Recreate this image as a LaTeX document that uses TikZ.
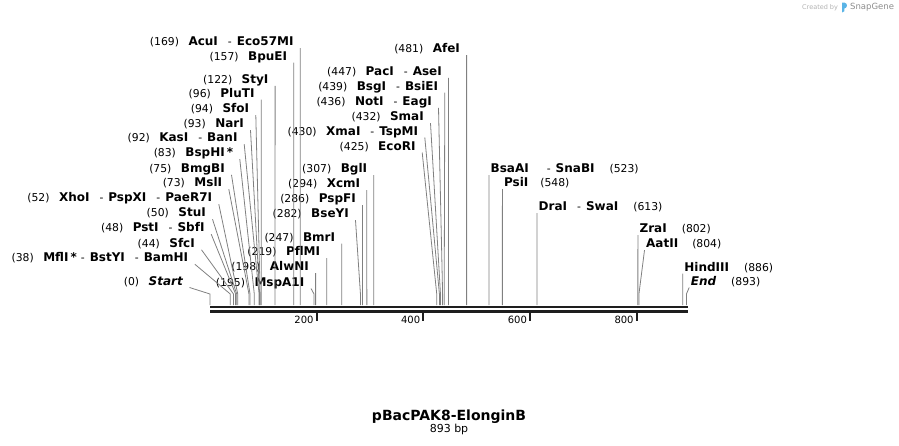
\documentclass[tikz,border=0pt]{standalone}
\usepackage{fontspec}
\setmainfont{DejaVu Sans}
\newcommand\enz[1]{{\fontsize{12}{14}\selectfont\bfseries #1}}
\newcommand\enzsep{\hspace{10pt}-\hspace{5pt}}
\newcommand\gapn{\hspace{9.5pt}}
\newcommand\gapr{\hspace{15pt}}
\definecolor{leadgray}{HTML}{808080}
\definecolor{axisblack}{HTML}{1E1E1E}
\definecolor{snapblue}{HTML}{5AB4E6}
\begin{document}
\begin{tikzpicture}[x=1pt,y=-1pt,
  lbl/.style={inner sep=0pt,font=\fontsize{10.8}{13}\selectfont},
  lead/.style={draw=leadgray,line width=0.8pt},
  axisline/.style={draw=axisblack,line width=2.8pt},
  tick/.style={draw=axisblack,line width=2pt}]
\useasboundingbox (0,0) rectangle (899,445);
% cut sites on the backbone
\foreach \bp in {0,38,44,48,50,52,73,75,83,92,93,94,96,122,157,169,195,198,219,247,282,286,294,307,425,430,432,436,439,447,481,523,548,613,802,804,886,893}
  \coordinate (s\bp) at ({210+0.5335*\bp},305);
% backbone
\coordinate (a0) at (210,307);
\coordinate (a1) at (688,307);
\draw[axisline] (a0) -- (a1);
\draw[axisline] ([yshift=-4.4pt]a0) -- ([yshift=-4.4pt]a1);
\foreach \t in {200,400,600,800} {
  \coordinate (k\t) at ({210+0.5335*\t},310);
  \draw[tick] (k\t) -- ([yshift=-10.5pt]k\t);
  \node[lbl,font=\fontsize{10}{12}\selectfont,anchor=base east] (t\t) at ({207+0.5335*\t},323) {\t};
}
% labels left of their lines
\node[lbl,anchor=base east] (n169) at (293.7,45.7) {(169)\gapn\enz{AcuI}\enzsep\enz{Eco57MI}};
\node[lbl,anchor=base east] (n157) at (287.3,60) {(157)\gapn\enz{BpuEI}};
\node[lbl,anchor=base east] (n122) at (268.6,83.3) {(122)\gapn\enz{StyI}};
\node[lbl,anchor=base east] (n96) at (254.7,97) {(96)\gapn\enz{PluTI}};
\node[lbl,anchor=base east] (n94) at (249.3,112.7) {(94)\gapn\enz{SfoI}};
\node[lbl,anchor=base east] (n93) at (244,127.7) {(93)\gapn\enz{NarI}};
\node[lbl,anchor=base east] (n92) at (237.7,141.7) {(92)\gapn\enz{KasI}\enzsep\enz{BanI}};
\node[lbl,anchor=base east] (n83) at (233.3,156.7) {(83)\gapn\enz{BspHI\,*}};
\node[lbl,anchor=base east] (n75) at (225,172.3) {(75)\gapn\enz{BmgBI}};
\node[lbl,anchor=base east] (n73) at (222.3,186.7) {(73)\gapn\enz{MslI}};
\node[lbl,anchor=base east] (n52) at (212.3,201.7) {(52)\gapn\enz{XhoI}\enzsep\enz{PspXI}\enzsep\enz{PaeR7I}};
\node[lbl,anchor=base east] (n50) at (206,216.7) {(50)\gapn\enz{StuI}};
\node[lbl,anchor=base east] (n48) at (204.7,231.7) {(48)\gapn\enz{PstI}\enzsep\enz{SbfI}};
\node[lbl,anchor=base east] (n44) at (195,247.3) {(44)\gapn\enz{SfcI}};
\node[lbl,anchor=base east] (n38) at (188.3,261.7) {(38)\gapn\enz{MflI\,*}\hspace{4pt}-\hspace{5pt}\enz{BstYI}\enzsep\enz{BamHI}};
\node[lbl,anchor=base east] (n0) at (183,285) {(0)\gapn\enz{\itshape Start}};
\node[lbl,anchor=base east] (n195) at (304.5,286) {(195)\gapn\enz{MspA1I}};
\node[lbl,anchor=base east] (n198) at (309.1,270.7) {(198)\gapn\enz{AlwNI}};
\node[lbl,anchor=base east] (n219) at (320.3,255.7) {(219)\gapn\enz{PflMI}};
\node[lbl,anchor=base east] (n247) at (335.3,241) {(247)\gapn\enz{BmrI}};
\node[lbl,anchor=base east] (n282) at (349,217.7) {(282)\gapn\enz{BseYI}};
\node[lbl,anchor=base east] (n286) at (356,202.7) {(286)\gapn\enz{PspFI}};
\node[lbl,anchor=base east] (n294) at (360.3,187.7) {(294)\gapn\enz{XcmI}};
\node[lbl,anchor=base east] (n307) at (367.3,172.7) {(307)\gapn\enz{BglI}};
\node[lbl,anchor=base east] (n425) at (415.7,150) {(425)\gapn\enz{EcoRI}};
\node[lbl,anchor=base east] (n430) at (418.3,135) {(430)\gapn\enz{XmaI}\enzsep\enz{TspMI}};
\node[lbl,anchor=base east] (n432) at (424,120.7) {(432)\gapn\enz{SmaI}};
\node[lbl,anchor=base east] (n436) at (432,105.3) {(436)\gapn\enz{NotI}\enzsep\enz{EagI}};
\node[lbl,anchor=base east] (n439) at (438.3,90) {(439)\gapn\enz{BsgI}\enzsep\enz{BsiEI}};
\node[lbl,anchor=base east] (n447) at (442,75.3) {(447)\gapn\enz{PacI}\enzsep\enz{AseI}};
\node[lbl,anchor=base east] (n481) at (460.1,52.7) {(481)\gapn\enz{AfeI}};
% labels right of their lines
\node[lbl,anchor=base west] (n523) at (490.5,172.7) {\enz{BsaAI}\hspace{18pt}-\hspace{5pt}\enz{SnaBI}\gapr(523)};
\node[lbl,anchor=base west] (n548) at (503.9,186.7) {\enz{PsiI}\hspace{12pt}(548)};
\node[lbl,anchor=base west] (n613) at (538.5,210.7) {\enz{DraI}\enzsep\enz{SwaI}\gapr(613)};
\node[lbl,anchor=base west] (n802) at (639.4,232.7) {\enz{ZraI}\gapr(802)};
\node[lbl,anchor=base west] (n804) at (646,247.7) {\enz{AatII}\hspace{14pt}(804)};
\node[lbl,anchor=base west] (n886) at (684.2,271) {\enz{HindIII}\gapr(886)};
\node[lbl,anchor=base west] (n893) at (690.7,285) {\enz{\itshape End}\gapr(893)};
% leaders
\foreach \bp in {0,38,44,48,50,52,73,75,83,92,93,94,96,122,157,169,195,198,219,247,282,286,294,307,425,430,432,436,439,447,481}
  \draw[lead] ([shift={(6.5,2.5)}]n\bp.base east) -- ([yshift=11pt]s\bp) -- (s\bp);
\foreach \bp in {523,548,613,802,804,886,893}
  \draw[lead] ([shift={(-1.5,2.5)}]n\bp.base west) -- ([yshift=11pt]s\bp) -- (s\bp);
% title
\node[lbl,font=\fontsize{14}{16}\selectfont\bfseries,anchor=base] (title) at (449,420) {pBacPAK8-ElonginB};
\node[lbl,font=\fontsize{11}{13}\selectfont,anchor=base] (size) at (449,432) {893 bp};
% credit
\node[lbl,font=\fontsize{6.5}{8}\selectfont,text=black!30,anchor=west] (credit) at (802,7.5) {Created by};
\fill[snapblue] (842,2.5) -- (842,12.5) -- (844.3,11.3) -- (844.3,8.6) .. controls (847.8,8) and (847.8,3) .. (844.3,2.5) -- cycle;
\node[lbl,font=\fontsize{8.5}{10}\selectfont,text=black!45,anchor=west] (snap) at (850,7.5) {SnapGene};
\end{tikzpicture}
\end{document}
